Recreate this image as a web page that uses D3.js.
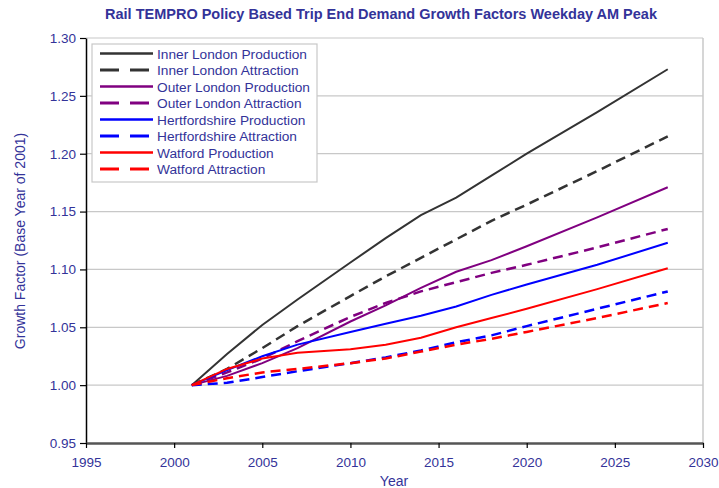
<!DOCTYPE html>
<html>
<head>
<meta charset="utf-8">
<script src="https://cdn.jsdelivr.net/npm/d3@7"></script>
<style>
  body { margin: 0; background: #fff; }
  text { font-family: "Liberation Sans", Arial, sans-serif; }
</style>
</head>
<body>
<script>
// data
var years = [2001, 2003, 2005, 2007, 2010, 2012, 2014, 2016, 2018, 2020, 2024, 2028];
var innerProd = [1.000, 1.027, 1.052, 1.074, 1.106, 1.127, 1.147, 1.162, 1.181, 1.200, 1.236, 1.273];
var innerAttr = [1.000, 1.014, 1.032, 1.051, 1.077, 1.094, 1.110, 1.126, 1.142, 1.156, 1.185, 1.215];
var outerProd = [1.000, 1.008, 1.019, 1.032, 1.055, 1.069, 1.084, 1.098, 1.108, 1.120, 1.145, 1.171];
var outerAttr = [1.000, 1.011, 1.023, 1.038, 1.059, 1.071, 1.081, 1.089, 1.097, 1.104, 1.119, 1.135];
var hertsProd = [1.000, 1.013, 1.025, 1.035, 1.046, 1.053, 1.060, 1.068, 1.078, 1.087, 1.104, 1.123];
var hertsAttr = [1.000, 1.002, 1.007, 1.012, 1.019, 1.024, 1.030, 1.037, 1.043, 1.051, 1.066, 1.081];
var watProd   = [1.000, 1.014, 1.023, 1.028, 1.031, 1.035, 1.041, 1.050, 1.058, 1.066, 1.083, 1.101];
var watAttr   = [1.000, 1.006, 1.011, 1.014, 1.019, 1.023, 1.029, 1.035, 1.040, 1.046, 1.058, 1.071];

var seriesNames = ["Inner London Production", "Inner London Attraction",
  "Outer London Production", "Outer London Attraction",
  "Hertfordshire Production", "Hertfordshire Attraction",
  "Watford Production", "Watford Attraction"];
var seriesValues = [innerProd, innerAttr, outerProd, outerAttr, hertsProd, hertsAttr, watProd, watAttr];
var seriesColors = ["#333333", "#333333", "#800080", "#800080", "#0000ff", "#0000ff", "#ff0000", "#ff0000"];
var seriesDashed = [false, true, false, true, false, true, false, true];

var xTicks = [1995, 2000, 2005, 2010, 2015, 2020, 2025, 2030];
var yTicks = [0.95, 1.00, 1.05, 1.10, 1.15, 1.20, 1.25, 1.30];

var textColor = "#333399";
var plot = {left: 86, right: 703, top: 38, bottom: 443};

var svg = d3.select("body").append("svg").attr("width", 719).attr("height", 488);

var x = d3.scaleLinear().domain([1995, 2030]).range([plot.left, plot.right]);
var y = d3.scaleLinear().domain([0.95, 1.30]).range([plot.bottom, plot.top]);

// gridlines + plot frame
svg.append("g").selectAll("line")
  .data(yTicks.slice(1))
  .enter().append("line")
  .attr("x1", plot.left).attr("x2", plot.right)
  .attr("y1", function(d){ return y(d); }).attr("y2", function(d){ return y(d); })
  .attr("stroke", "#c8c8c8").attr("stroke-width", 1.2);
svg.append("line")
  .attr("x1", plot.right).attr("x2", plot.right).attr("y1", plot.top).attr("y2", plot.bottom)
  .attr("stroke", "#c8c8c8").attr("stroke-width", 1.5);

// axes
var yAxis = d3.axisLeft(y).tickValues(yTicks).tickFormat(d3.format(".2f")).tickSize(6).tickSizeOuter(0);
var xAxis = d3.axisBottom(x).tickValues(xTicks).tickFormat(d3.format("d")).tickSize(5).tickSizeOuter(0);

var gy = svg.append("g").attr("transform", "translate(" + plot.left + ",0)").call(yAxis);
var gx = svg.append("g").attr("transform", "translate(0," + plot.bottom + ")").call(xAxis);

gy.select(".domain").attr("stroke", "#000").attr("stroke-width", 1.5);
gy.selectAll(".tick line").attr("stroke", "#000").attr("stroke-width", 1.2);
gy.selectAll(".tick text").attr("fill", textColor).attr("font-size", 13.5).attr("x", -10);
gx.select(".domain").attr("stroke", "#555").attr("stroke-width", 2.5);
gx.selectAll(".tick line").attr("stroke", "#000").attr("stroke-width", 1.2);
gx.selectAll(".tick text").attr("fill", textColor).attr("font-size", 13.5).attr("y", 14);
svg.selectAll(".tick text").attr("font-family", "Liberation Sans, Arial, sans-serif");

// series lines
var line = d3.line()
  .x(function(d, i){ return x(years[i]); })
  .y(function(d){ return y(d); });

svg.append("g").selectAll("path")
  .data(seriesValues)
  .enter().append("path")
  .attr("d", line)
  .attr("fill", "none")
  .attr("stroke", function(d, i){ return seriesColors[i]; })
  .attr("stroke-width", function(d, i){ return seriesDashed[i] ? 2.5 : 2; })
  .attr("stroke-dasharray", function(d, i){ return seriesDashed[i] ? "10,6" : null; });

// title and axis titles
svg.append("text")
  .attr("x", 381).attr("y", 19)
  .attr("text-anchor", "middle")
  .attr("font-size", 14.5).attr("font-weight", "bold")
  .attr("fill", textColor)
  .text("Rail TEMPRO Policy Based Trip End Demand Growth Factors Weekday AM Peak");

svg.append("text")
  .attr("x", 394).attr("y", 486)
  .attr("text-anchor", "middle")
  .attr("font-size", 14)
  .attr("fill", textColor)
  .text("Year");

svg.append("text")
  .attr("transform", "translate(25,241) rotate(-90)")
  .attr("text-anchor", "middle")
  .attr("font-size", 14)
  .attr("fill", textColor)
  .text("Growth Factor (Base Year of 2001)");

// legend
var legend = svg.append("g");
legend.append("rect")
  .attr("x", 92).attr("y", 44).attr("width", 225).attr("height", 138)
  .attr("fill", "#fff").attr("stroke", "#c8c8c8").attr("stroke-width", 1.2);

var items = legend.selectAll("g.item")
  .data(seriesNames)
  .enter().append("g")
  .attr("class", "item")
  .attr("transform", function(d, i){ return "translate(0," + (53.5 + i * 16.5) + ")"; });

items.append("line")
  .attr("x1", 100).attr("x2", 153).attr("y1", 0).attr("y2", 0)
  .attr("stroke", function(d, i){ return seriesColors[i]; })
  .attr("stroke-width", function(d, i){ return seriesDashed[i] ? 3 : 2.5; })
  .attr("stroke-dasharray", function(d, i){ return seriesDashed[i] ? "19,11" : null; });

items.append("text")
  .attr("x", 157).attr("y", 5)
  .attr("font-size", 13.7)
  .attr("fill", textColor)
  .text(function(d){ return d; });
</script>
</body>
</html>
